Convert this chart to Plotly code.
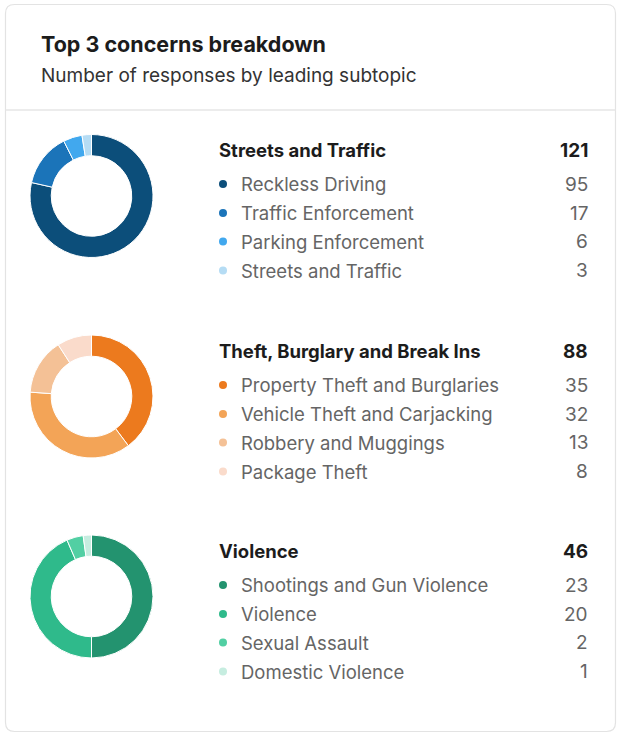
import plotly.graph_objects as go

W, H = 617, 734

title = "Top 3 concerns breakdown"
subtitle = "Number of responses by leading subtopic"

groups = ["Streets and Traffic", "Theft, Burglary and Break Ins", "Violence"]
totals = [121, 88, 46]

streets_labels = ["Reckless Driving", "Traffic Enforcement", "Parking Enforcement", "Streets and Traffic"]
streets_values = [95, 17, 6, 3]
theft_labels = ["Property Theft and Burglaries", "Vehicle Theft and Carjacking", "Robbery and Muggings", "Package Theft"]
theft_values = [35, 32, 13, 8]
violence_labels = ["Shootings and Gun Violence", "Violence", "Sexual Assault", "Domestic Violence"]
violence_values = [23, 20, 2, 1]

streets_colors = ["#0c4e7a", "#1b74b9", "#41a8ee", "#b5dcf4"]
theft_colors = ["#ec7a1e", "#f3a457", "#f4c196", "#fadbcb"]
violence_colors = ["#23936f", "#2fba8b", "#52cfa3", "#c6ede0"]

sub_labels = [streets_labels, theft_labels, violence_labels]
sub_values = [streets_values, theft_values, violence_values]
sub_colors = [streets_colors, theft_colors, violence_colors]

FONT = "Inter, Roboto, sans-serif"

# layout (pixel positions)
donut_cx = 91.5
donut_cy = [196, 396.5, 596.5]
donut_r = 61.5
title_y = [150, 351, 551]
row_dy = [34, 63, 91.5, 120.5]
label_x = 238.5
dot_x = 223
num_x = 590
sec_x = 216.5

fig = go.Figure()

annotations = []
for g in range(3):
    cy = donut_cy[g]
    fig.add_trace(go.Pie(
        labels=sub_labels[g], values=sub_values[g],
        marker=dict(colors=sub_colors[g], line=dict(color="white", width=1)),
        hole=0.655, sort=False, direction="clockwise", rotation=0,
        textinfo="none", hoverinfo="label+value", showlegend=False,
        domain=dict(x=[(donut_cx - donut_r) / W, (donut_cx + donut_r) / W],
                    y=[1 - (cy + donut_r) / H, 1 - (cy - donut_r) / H]),
    ))
    ty = title_y[g]
    annotations.append(dict(x=sec_x, y=ty, text=groups[g], xanchor="left", yanchor="middle",
                            font=dict(size=18.5, color="#1c1c1c", family=FONT, weight=650)))
    annotations.append(dict(x=num_x, y=ty, text=str(totals[g]), xanchor="right", yanchor="middle",
                            font=dict(size=19, color="#1c1c1c", family=FONT, weight=650)))
    ys = [ty + d for d in row_dy]
    fig.add_trace(go.Scatter(
        x=[dot_x] * 4, y=ys, mode="markers",
        marker=dict(size=8, color=sub_colors[g]),
        xaxis="x", yaxis="y", showlegend=False, hoverinfo="skip",
    ))
    for i in range(4):
        annotations.append(dict(x=label_x, y=ys[i], text=sub_labels[g][i], xanchor="left", yanchor="middle",
                                font=dict(size=18.5, color="#656565", family=FONT)))
        annotations.append(dict(x=num_x, y=ys[i], text=str(sub_values[g][i]), xanchor="right", yanchor="middle",
                                font=dict(size=19, color="#656565", family=FONT)))

annotations.append(dict(x=38.5, y=44, text=title, xanchor="left", yanchor="middle",
                        font=dict(size=21.5, color="#1c1c1c", family=FONT, weight=650)))
annotations.append(dict(x=38.5, y=75, text=subtitle, xanchor="left", yanchor="middle",
                        font=dict(size=19, color="#333333", family=FONT)))
for a in annotations:
    a.update(xref="x", yref="y", showarrow=False)

L, T, R, B, rr = 5.5, 4.5, 615.5, 731.5, 9
card_path = (f"M {L+rr},{T} L {R-rr},{T} Q {R},{T} {R},{T+rr} L {R},{B-rr} Q {R},{B} {R-rr},{B} "
             f"L {L+rr},{B} Q {L},{B} {L},{B-rr} L {L},{T+rr} Q {L},{T} {L+rr},{T} Z")

fig.update_layout(
    width=W, height=H, autosize=False,
    margin=dict(l=0, r=0, t=0, b=0),
    paper_bgcolor="white", plot_bgcolor="rgba(0,0,0,0)",
    xaxis=dict(range=[0, W], visible=False, fixedrange=True, domain=[0, 1]),
    yaxis=dict(range=[H, 0], visible=False, fixedrange=True, domain=[0, 1]),
    annotations=annotations,
    shapes=[
        dict(type="path", path=card_path, xref="x", yref="y", line=dict(color="#e3e3e3", width=1.2), layer="below"),
        dict(type="line", x0=L, x1=R, y0=110, y1=110, xref="x", yref="y", line=dict(color="#e6e6e6", width=1.5)),
    ],
)

fig.write_html("out.html", config={"displayModeBar": False},
               post_script="document.body.style.margin='0';document.body.style.overflow='hidden';")
